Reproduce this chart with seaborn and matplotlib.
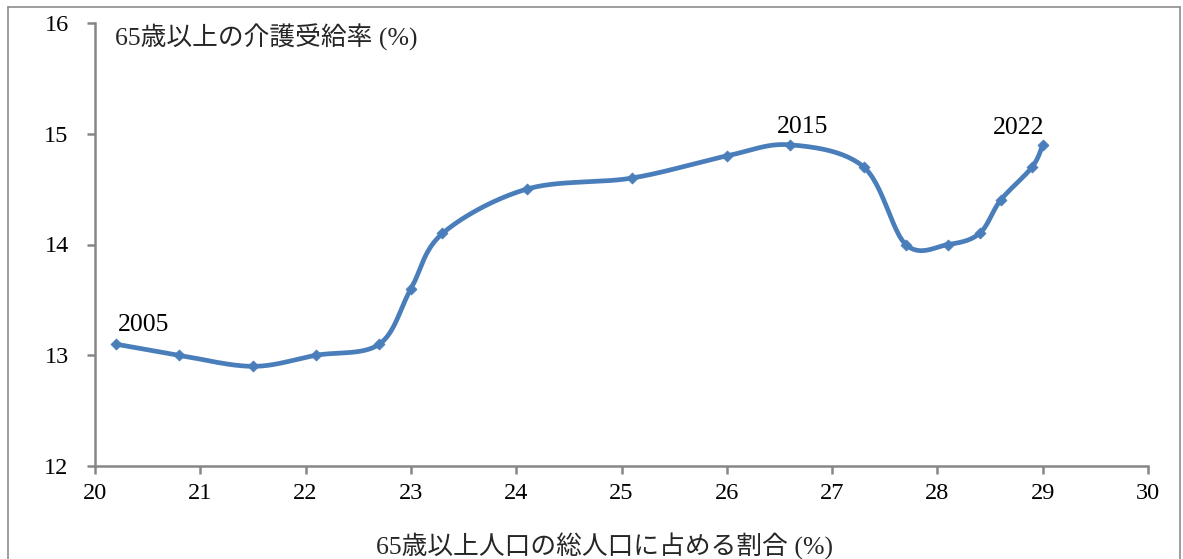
import numpy as np
import pandas as pd
import matplotlib
matplotlib.use("Agg")
import matplotlib.pyplot as plt
from matplotlib.lines import Line2D
import seaborn as sns

# Share of population aged 65+ (%) vs. long-term care recipient rate among 65+ (%)
years = list(range(2005, 2023))
share_65 = [20.2, 20.8, 21.5, 22.1, 22.7, 23.0, 23.3, 24.1, 25.1, 26.0,
            26.6, 27.3, 27.7, 28.1, 28.4, 28.6, 28.9, 29.0]
care_rate = [13.1, 13.0, 12.9, 13.0, 13.1, 13.6, 14.1, 14.5, 14.6, 14.8,
             14.9, 14.7, 14.0, 14.0, 14.1, 14.4, 14.7, 14.9]
labelled_years = [2005, 2015, 2022]
x_ticks = list(range(20, 31))
y_ticks = [12, 13, 14, 15, 16]

title_text = "65歳以上の介護受給率 (%)"
xlabel_text = "65歳以上人口の総人口に占める割合 (%)"

LINE = "#4A7EBB"
AXIS = "#868686"

sns.set_style("white")
FONTS = ["Liberation Serif", "Noto Sans CJK JP"]
plt.rcParams["font.family"] = FONTS


def smooth_curve(xs, ys, yscale=1.05, n=30):
    """Bezier smoothing through every point (Catmull-Rom style control points)."""
    p = np.column_stack([np.asarray(xs, float), np.asarray(ys, float) * yscale])
    pts = np.vstack([p[0], p, p[-1]])
    out = []
    t = np.linspace(0, 1, n)[:, None]
    for i in range(1, len(pts) - 2):
        p0, p1, p2, p3 = pts[i - 1], pts[i], pts[i + 1], pts[i + 2]
        c1 = p1 + (p2 - p0) / 6.0
        c2 = p2 - (p3 - p1) / 6.0
        seg = ((1 - t) ** 3) * p1 + 3 * ((1 - t) ** 2) * t * c1 \
            + 3 * (1 - t) * t ** 2 * c2 + t ** 3 * p2
        out.append(seg if i == 1 else seg[1:])
    out = np.vstack(out)
    return out[:, 0], out[:, 1] / yscale


cx, cy = smooth_curve(share_65, care_rate)
curve = pd.DataFrame({"share": cx, "rate": cy})
points = pd.DataFrame({"year": years, "share": share_65, "rate": care_rate})

fig = plt.figure(figsize=(11.83, 5.59), dpi=100)
ax = fig.add_axes([95 / 1183, 1 - 466 / 559, (1148 - 95) / 1183, (466 - 23) / 559])

sns.lineplot(data=curve, x="share", y="rate", sort=False, estimator=None,
             color=LINE, linewidth=3.4, ax=ax, zorder=3)
sns.scatterplot(data=points, x="share", y="rate", marker="D", s=32,
                color=LINE, edgecolor=LINE, linewidth=0.5, ax=ax, zorder=4)

ax.set_xlim(20, 30)
ax.set_ylim(12, 16)
ax.set_xticks(x_ticks)
ax.set_yticks(y_ticks)
ax.set_xticklabels([str(v) for v in x_ticks])
ax.set_yticklabels([str(v) for v in y_ticks])
ax.set_xlabel("")
ax.set_ylabel("")

for side in ("top", "right"):
    ax.spines[side].set_visible(False)
for side in ("left", "bottom"):
    ax.spines[side].set_color(AXIS)
    ax.spines[side].set_linewidth(1.8)

ax.tick_params(axis="both", direction="out", length=6, width=1.8,
               color=AXIS, labelsize=17.5, labelcolor="black")
ax.tick_params(axis="y", pad=13, left=True)
ax.tick_params(axis="x", pad=6, bottom=True)
for lab in ax.get_xticklabels() + ax.get_yticklabels():
    lab.set_family(FONTS)

# Year annotations above selected points (offsets in pixels, y upward)
offsets = {2005: (2, 19, "left"), 2015: (13, 18, "center"), 2022: (-24, 17, "center")}
for yr in labelled_years:
    i = years.index(yr)
    dx, dy, ha = offsets[yr]
    ax.annotate(str(yr), xy=(share_65[i], care_rate[i]), xytext=(dx, dy),
                textcoords="offset pixels", ha=ha, va="center",
                fontsize=18.5, family=FONTS, color="black")

fig.text(115 / 1183, 1 - 37 / 559, title_text, ha="left", va="center",
         fontsize=18.5, family=FONTS)
fig.text(605 / 1183, 1 - 546 / 559, xlabel_text, ha="center", va="center",
         fontsize=18.5, family=FONTS)

# Outer chart frame (bottom edge falls outside the canvas)
frame_kw = dict(color="#8C8C8C", linewidth=1.2, transform=fig.transFigure)
fig.add_artist(Line2D([8 / 1183, 8 / 1183], [0, 1 - 7 / 559], **frame_kw))
fig.add_artist(Line2D([8 / 1183, 1180 / 1183], [1 - 7 / 559, 1 - 7 / 559], **frame_kw))
fig.add_artist(Line2D([1180 / 1183, 1180 / 1183], [0, 1 - 7 / 559], **frame_kw))

fig.savefig("out.png", dpi=100, facecolor="white")
